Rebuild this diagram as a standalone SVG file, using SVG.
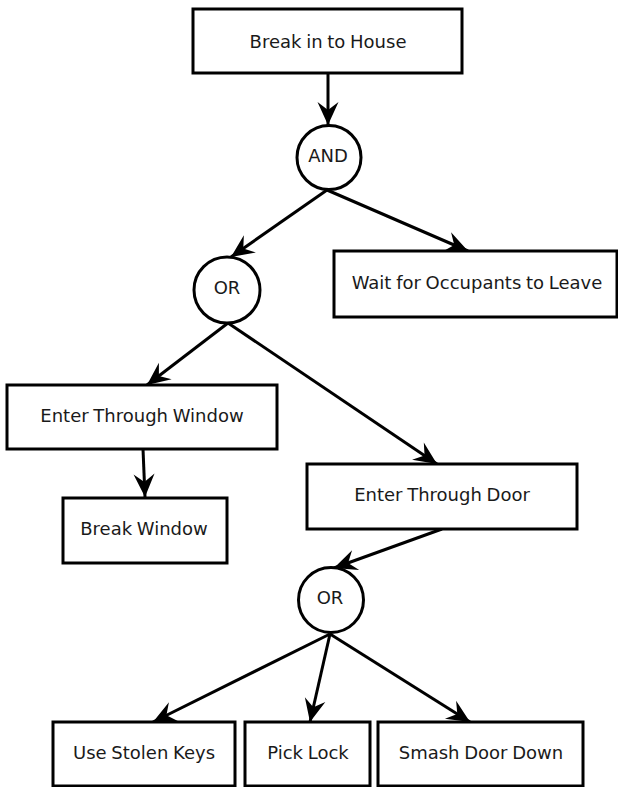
<svg xmlns="http://www.w3.org/2000/svg" width="618" height="787" viewBox="0 0 618 787">
<defs>
<style>
.box{fill:#fff;stroke:#000;stroke-width:3}
.gate{fill:#fff;stroke:#000;stroke-width:3}
.lbl{font-family:"DejaVu Sans","Liberation Sans",sans-serif;font-size:18px;word-spacing:-1px;fill:#1a1a1a;text-anchor:middle;dominant-baseline:central}
.conn line{stroke:#000;stroke-width:3;marker-end:url(#ah)}
</style>
<marker id="ah" viewBox="-25 -12 27 24" refX="0" refY="0" markerWidth="27" markerHeight="24" orient="auto" markerUnits="userSpaceOnUse">
<path d="M0,0 L-23,-10.5 L-15,0 L-23,10.5 Z" fill="#000"/>
</marker>
</defs>
<rect width="618" height="787" fill="#fff"/>
<g id="connectors" class="conn">
<line x1="328" y1="73" x2="328" y2="125"/>
<line x1="327" y1="190" x2="231" y2="257"/>
<line x1="327" y1="190" x2="468" y2="251"/>
<line x1="228" y1="323" x2="147" y2="385"/>
<line x1="228" y1="323" x2="437" y2="464"/>
<line x1="143" y1="449" x2="145" y2="497"/>
<line x1="442" y1="529" x2="334" y2="568"/>
<line x1="330" y1="634" x2="153" y2="722"/>
<line x1="330" y1="634" x2="310" y2="722"/>
<line x1="330" y1="634" x2="470" y2="722"/>
</g>
<g id="n-house"><rect class="box" x="193" y="9" width="269" height="64"/><text class="lbl" x="328" y="41">Break in to House</text></g>
<g id="n-and"><circle class="gate" cx="329" cy="157.5" r="32"/><text class="lbl" x="328" y="155">AND</text></g>
<g id="n-or1"><circle class="gate" cx="227" cy="290" r="33"/><text class="lbl" x="227" y="287">OR</text></g>
<g id="n-wait"><rect class="box" x="334" y="251" width="283" height="66"/><text class="lbl" x="477" y="282">Wait for Occupants to Leave</text></g>
<g id="n-window"><rect class="box" x="7" y="385" width="270" height="64"/><text class="lbl" x="142" y="415">Enter Through Window</text></g>
<g id="n-breakwin"><rect class="box" x="63" y="498" width="164" height="65"/><text class="lbl" x="144" y="528">Break Window</text></g>
<g id="n-door"><rect class="box" x="307" y="464" width="270" height="65"/><text class="lbl" x="442" y="494">Enter Through Door</text></g>
<g id="n-or2"><circle class="gate" cx="331" cy="600" r="32.5"/><text class="lbl" x="330" y="597">OR</text></g>
<g id="n-keys"><rect class="box" x="53" y="722" width="182" height="64"/><text class="lbl" x="144" y="752">Use Stolen Keys</text></g>
<g id="n-pick"><rect class="box" x="245" y="722" width="125" height="64"/><text class="lbl" x="308" y="752">Pick Lock</text></g>
<g id="n-smash"><rect class="box" x="378" y="722" width="205" height="64"/><text class="lbl" x="481" y="752">Smash Door Down</text></g>
</svg>
